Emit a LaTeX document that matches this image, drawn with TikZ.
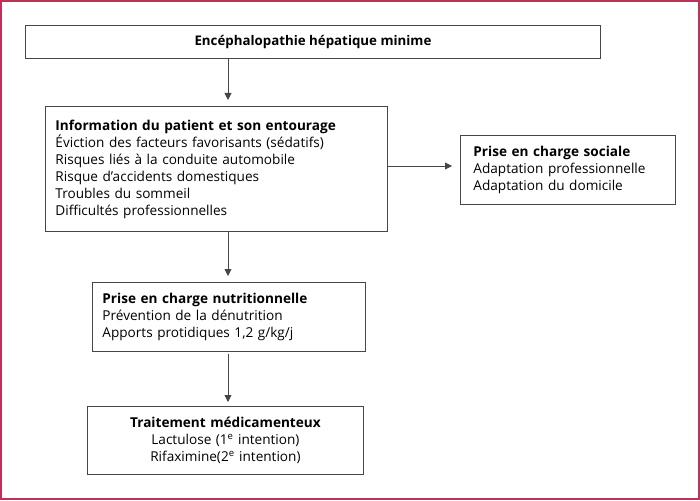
\documentclass[tikz,border=0pt]{standalone}
\usepackage{fontspec}
\setmainfont{Open Sans}
\usetikzlibrary{arrows.meta}
\definecolor{frame}{RGB}{190,50,90}
\definecolor{boxline}{RGB}{70,70,70}
\begin{document}
\begin{tikzpicture}[x=1pt,y=-1pt,
  box/.style={draw=boxline,line width=0.9pt,anchor=north west,inner sep=0pt,
    font=\fontsize{13.6}{17}\selectfont},
  arr/.style={draw=boxline,line width=0.9pt,-{Triangle[length=7pt,width=7pt]},shorten >=6pt}]
\useasboundingbox (0,0) rectangle (700,500);
\draw[frame,line width=1.6pt] (0.8,0.8) rectangle (699.2,499.2);

\node[box,minimum width=575pt,minimum height=33pt,font=\fontsize{13.3}{17}\selectfont\bfseries] (top) at (25,25) {Encéphalopathie hépatique minime};

\node[box,minimum width=342pt,minimum height=125pt,text width=322pt,align=left] (info) at (45,106)
  {\textbf{Information du patient et son entourage}\\
   Éviction des facteurs favorisants (sédatifs)\\
   Risques liés à la conduite automobile\\
   Risque d’accidents domestiques\\
   Troubles du sommeil\\
   Difficultés professionnelles};

\node[box,minimum width=215pt,minimum height=69pt,text width=189pt,align=left] (soc) at (460,135)
  {\textbf{Prise en charge sociale}\\
   Adaptation professionnelle\\
   Adaptation du domicile};

\node[box,minimum width=273pt,minimum height=69pt,text width=253pt,align=left] (nut) at (92,282)
  {\textbf{Prise en charge nutritionnelle}\\
   Prévention de la dénutrition\\
   Apports protidiques 1,2 g/kg/j};

\node[box,minimum width=276pt,minimum height=68pt,text width=256pt,align=center] (trt) at (87,406)
  {\textbf{Traitement médicamenteux}\\
   Lactulose (1\textsuperscript{e} intention)\\
   Rifaximine(2\textsuperscript{e} intention)};

\coordinate (xl) at (228,0);
\coordinate (yl) at (0,166);
\draw[arr] (top.south -| xl) -- (info.north -| xl);
\draw[arr] (info.south -| xl) -- (nut.north -| xl);
\draw[arr] ([yshift=-2pt]nut.south -| xl) -- ([yshift=-2pt]trt.north -| xl);
\draw[arr,shorten >=8pt] (info.east |- yl) -- (soc.west |- yl);
\end{tikzpicture}
\end{document}
